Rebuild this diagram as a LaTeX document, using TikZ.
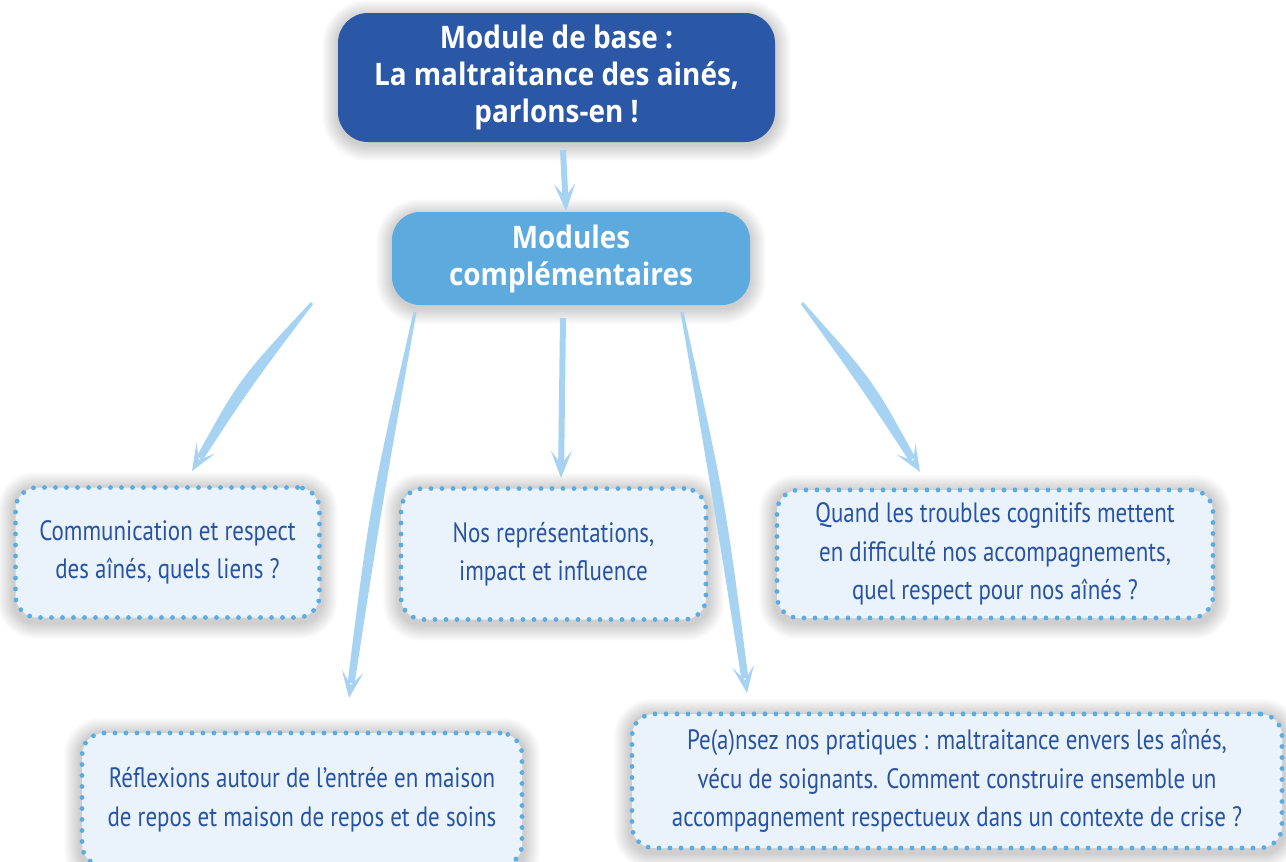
\documentclass[tikz,border=0pt]{standalone}
\usepackage{fontspec}
\setmainfont{Open Sans}
\newfontfamily\headf[FakeStretch=0.9]{Open Sans}
\newfontfamily\condf[FakeStretch=0.82]{PT Sans}
\usetikzlibrary{arrows.meta,calc}
\pgfdeclarelayer{bg}
\pgfsetlayers{bg,main}
\definecolor{darkblue}{RGB}{43,88,166}
\definecolor{midblue}{RGB}{93,170,222}
\definecolor{arrowc}{RGB}{166,211,241}
\definecolor{dotc}{RGB}{91,172,226}
\definecolor{boxfill}{RGB}{234,243,251}
\definecolor{textblue}{RGB}{40,83,162}
\newcommand\taper[4]{%
 \coordinate (tM) at ($(#1)!0.5!(#2)$);
 \coordinate (tC) at ($(tM)!#3!90:(#2)$);
 \coordinate (tB) at ($(#2)!15pt!(tC)$);
 \fill[arrowc] ($(#1)!1.5pt!90:(tC)$) .. controls ($(tC)!#4!90:(#2)$) .. ($(tB)!3.5pt!-90:(tC)$) -- ($(tB)!3.5pt!90:(tC)$) .. controls ($(tC)!#4!-90:(#2)$) .. ($(#1)!1.5pt!-90:(tC)$) -- cycle;
 \fill[arrowc] (#2) -- ($(#2)!29pt!22:(tC)$) -- ($(#2)!13pt!(tC)$) -- ($(#2)!29pt!-22:(tC)$) -- cycle;
}
\newcommand\softshadow[2]{%
 \begin{pgfonlayer}{bg}
 \foreach \i in {1,...,16}{%
   \pgfmathsetmacro\rr{#2+\i}
   \fill[black, opacity=0.011, rounded corners=\rr pt]
     ($(#1.south west)+(-\i,\i+3)$) rectangle ($(#1.north east)+(\i,-\i+3)$);
 }
 \end{pgfonlayer}
}
\tikzset{
  mainbox/.style={rounded corners=30pt, text=white, align=center,
    font=\headf\bfseries\fontsize{31}{37}\selectfont},
  dotbox/.style={draw=dotc, fill=boxfill, line width=4.8pt, line cap=round,
    dash pattern=on 0pt off 11pt, rounded corners=22pt, text=textblue, align=center,
    font=\condf\fontsize{28}{38.5}\selectfont},
  straightarrow/.style={arrowc, line width=6pt, -{Stealth[length=27pt, width=21pt, inset=13pt]}}
}
\begin{document}
\begin{tikzpicture}[x=1pt,y=-1pt]
\useasboundingbox (0,0) rectangle (1286,862);
\begin{pgfonlayer}{bg}
\fill[white] (0,0) rectangle (1286,862);
\end{pgfonlayer}
\node[mainbox, fill=darkblue, minimum width=437pt, minimum height=129pt] (base) at (556.5,77.5)
  {Module de base :\\La maltraitance des ainés,\\parlons-en !};
\node[mainbox, fill=midblue, rounded corners=28pt, minimum width=358pt, minimum height=93pt] (comp) at (571,258.5)
  {Modules\\complémentaires};
\node[dotbox, minimum width=304pt, minimum height=130pt] (b1) at (167.5,552.5)
  {Communication et respect\\des aînés, quels liens ?};
\node[dotbox, minimum width=305pt, minimum height=131pt] (b2) at (553.5,554)
  {Nos représentations,\\impact et influence};
\node[dotbox, minimum width=436pt, minimum height=128pt] (b3) at (995,554)
  {Quand les troubles cognitifs mettent\\en difficulté nos accompagnements,\\quel respect pour nos aînés ?};
\node[dotbox, minimum width=440pt, minimum height=133pt] (b4) at (302,799.5)
  {Réflexions autour de l’entrée en maison\\de repos et maison de repos et de soins};
\node[dotbox, minimum width=650pt, minimum height=134pt] (b5) at (957,781)
  {Pe(a)nsez nos pratiques : maltraitance envers les aînés,\\vécu de soignants. Comment construire ensemble un\\accompagnement respectueux dans un contexte de crise ?};
\softshadow{base}{30}
\softshadow{comp}{28}
\softshadow{b1}{22}
\softshadow{b2}{22}
\softshadow{b3}{22}
\softshadow{b4}{22}
\softshadow{b5}{22}
% arrow end points
\coordinate (s0) at (563,150); \coordinate (e0) at (566,211);
\coordinate (s1) at (312,303); \coordinate (e1) at (192,471);
\coordinate (s2) at (415,312); \coordinate (e2) at (349,698);
\coordinate (s3) at (563,318); \coordinate (e3) at (561,478);
\coordinate (s4) at (682,312); \coordinate (e4) at (747,693);
\coordinate (s5) at (802,303); \coordinate (e5) at (920,472);
\draw[straightarrow] (s0) -- (e0);
\draw[straightarrow] (s3) -- (e3);
\taper{s1}{e1}{-8pt}{7pt}
\taper{s2}{e2}{-6pt}{6pt}
\taper{s4}{e4}{5pt}{6pt}
\taper{s5}{e5}{7pt}{7pt}
\end{tikzpicture}
\end{document}
